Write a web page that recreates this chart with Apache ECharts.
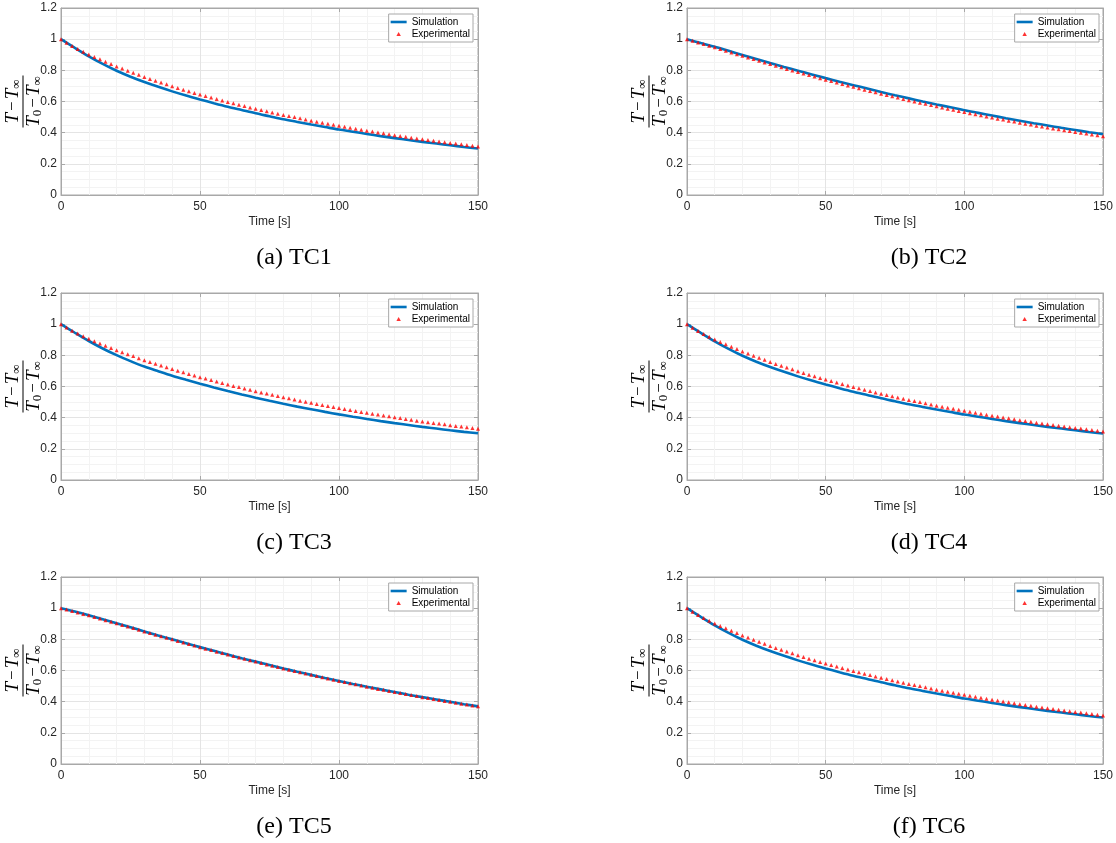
<!DOCTYPE html>
<html>
<head>
<meta charset="utf-8">
<title>Normalized temperature TC1-TC6</title>
<script src="https://cdn.jsdelivr.net/npm/echarts@6/dist/echarts.min.js"></script>
<style>
  html, body { margin: 0; padding: 0; background: #fff; }
  #main { width: 1116px; height: 843px; }
</style>
</head>
<body>
<div id="main"></div>
<script>
// time stamps [s]
const simTime = [0, 5, 10, 15, 20, 25, 30, 35, 40, 45, 50, 55, 60, 65, 70, 75, 80, 85, 90, 95, 100,
  105, 110, 115, 120, 125, 130, 135, 140, 145, 150];
const expTime = [0, 2, 4, 6, 8, 10, 12, 14, 16, 18, 20, 22, 24, 26, 28, 30, 32, 34, 36, 38, 40,
  42, 44, 46, 48, 50, 52, 54, 56, 58, 60, 62, 64, 66, 68, 70, 72, 74, 76, 78, 80,
  82, 84, 86, 88, 90, 92, 94, 96, 98, 100, 102, 104, 106, 108, 110, 112, 114, 116, 118, 120,
  122, 124, 126, 128, 130, 132, 134, 136, 138, 140, 142, 144, 146, 148, 150];

// (T - Tinf) / (T0 - Tinf)
const tc1Sim = [1.000, 0.944, 0.890, 0.841, 0.797, 0.759, 0.725, 0.694, 0.665, 0.638, 0.613,
  0.589, 0.566, 0.545, 0.524, 0.505, 0.486, 0.469, 0.452, 0.436, 0.420,
  0.406, 0.392, 0.378, 0.365, 0.353, 0.341, 0.330, 0.319, 0.308, 0.298];
const tc1Exp = [1.000, 0.977, 0.956, 0.937, 0.919, 0.902,
  0.886, 0.871, 0.855, 0.840, 0.825, 0.811, 0.798, 0.784, 0.771, 0.757,
  0.745, 0.733, 0.722, 0.710, 0.698, 0.687, 0.676, 0.666, 0.655, 0.645,
  0.635, 0.626, 0.616, 0.607, 0.597, 0.588, 0.579, 0.571, 0.562, 0.553,
  0.545, 0.538, 0.530, 0.522, 0.514, 0.507, 0.500, 0.492, 0.485, 0.477,
  0.470, 0.464, 0.457, 0.451, 0.444, 0.438, 0.431, 0.425, 0.419, 0.413,
  0.407, 0.401, 0.396, 0.390, 0.384, 0.379, 0.374, 0.368, 0.363, 0.358,
  0.353, 0.348, 0.344, 0.339, 0.334, 0.330, 0.325, 0.321, 0.316, 0.312];

const tc2Sim = [1.000, 0.975, 0.951, 0.925, 0.899, 0.873, 0.847, 0.822, 0.798, 0.774, 0.750,
  0.727, 0.705, 0.683, 0.661, 0.640, 0.620, 0.600, 0.581, 0.563, 0.544,
  0.527, 0.510, 0.493, 0.477, 0.461, 0.446, 0.431, 0.417, 0.403, 0.390];
const tc2Exp = [1.000, 0.990, 0.979, 0.969, 0.958, 0.948,
  0.937, 0.926, 0.915, 0.904, 0.893, 0.882, 0.872, 0.861, 0.851, 0.840,
  0.830, 0.819, 0.809, 0.799, 0.789, 0.779, 0.770, 0.760, 0.750, 0.740,
  0.731, 0.722, 0.712, 0.703, 0.694, 0.685, 0.676, 0.668, 0.659, 0.650,
  0.642, 0.633, 0.625, 0.616, 0.608, 0.600, 0.592, 0.585, 0.577, 0.569,
  0.562, 0.554, 0.547, 0.539, 0.532, 0.525, 0.518, 0.511, 0.504, 0.497,
  0.490, 0.484, 0.477, 0.471, 0.464, 0.458, 0.452, 0.445, 0.439, 0.433,
  0.427, 0.422, 0.416, 0.411, 0.405, 0.399, 0.394, 0.388, 0.383, 0.377];

const tc3Sim = [1.000, 0.945, 0.892, 0.844, 0.801, 0.763, 0.728, 0.698, 0.669, 0.643, 0.618,
  0.594, 0.571, 0.549, 0.528, 0.508, 0.489, 0.471, 0.454, 0.437, 0.421,
  0.406, 0.392, 0.378, 0.365, 0.353, 0.341, 0.330, 0.319, 0.309, 0.300];
const tc3Exp = [1.000, 0.978, 0.958, 0.940, 0.922, 0.906,
  0.891, 0.876, 0.862, 0.847, 0.833, 0.820, 0.807, 0.795, 0.782, 0.769,
  0.758, 0.746, 0.735, 0.723, 0.712, 0.701, 0.691, 0.681, 0.670, 0.660,
  0.651, 0.641, 0.632, 0.622, 0.613, 0.604, 0.596, 0.587, 0.579, 0.570,
  0.562, 0.555, 0.547, 0.539, 0.531, 0.524, 0.517, 0.509, 0.502, 0.495,
  0.488, 0.482, 0.475, 0.469, 0.462, 0.456, 0.450, 0.443, 0.437, 0.431,
  0.425, 0.420, 0.414, 0.409, 0.403, 0.398, 0.392, 0.387, 0.381, 0.376,
  0.371, 0.366, 0.362, 0.357, 0.352, 0.347, 0.343, 0.338, 0.334, 0.329];

// TC4 and TC6 look the same as TC1 in the figure
const tc4Sim = tc1Sim;
const tc4Exp = tc1Exp;
const tc6Sim = tc1Sim;
const tc6Exp = tc1Exp;

const tc5Sim = [1.000, 0.978, 0.954, 0.929, 0.903, 0.877, 0.851, 0.825, 0.800, 0.775, 0.750,
  0.726, 0.702, 0.679, 0.657, 0.635, 0.613, 0.592, 0.572, 0.552, 0.533,
  0.514, 0.496, 0.479, 0.462, 0.445, 0.429, 0.414, 0.399, 0.384, 0.370];
const tc5Exp = [1.000, 0.991, 0.982, 0.972, 0.963, 0.954,
  0.944, 0.933, 0.923, 0.913, 0.903, 0.892, 0.882, 0.872, 0.861, 0.851,
  0.841, 0.830, 0.820, 0.810, 0.800, 0.790, 0.780, 0.770, 0.760, 0.750,
  0.740, 0.731, 0.721, 0.712, 0.702, 0.693, 0.684, 0.675, 0.666, 0.657,
  0.648, 0.639, 0.631, 0.622, 0.613, 0.605, 0.596, 0.588, 0.580, 0.572,
  0.564, 0.556, 0.549, 0.541, 0.533, 0.526, 0.518, 0.511, 0.503, 0.496,
  0.489, 0.482, 0.476, 0.469, 0.462, 0.455, 0.449, 0.442, 0.436, 0.429,
  0.423, 0.417, 0.411, 0.405, 0.399, 0.393, 0.387, 0.382, 0.376, 0.370];

const captions = ['(a) TC1', '(b) TC2', '(c) TC3', '(d) TC4', '(e) TC5', '(f) TC6'];
const simData = [tc1Sim, tc2Sim, tc3Sim, tc4Sim, tc5Sim, tc6Sim];
const expData = [tc1Exp, tc2Exp, tc3Exp, tc4Exp, tc5Exp, tc6Exp];

const SANS = '"Liberation Sans", Arial, Helvetica, sans-serif';
const SERIF = '"Liberation Serif", "Times New Roman", serif';
const axisGray = '#a8a8a8';
const labelColor = '#262626';

const W = 417, H = 187;
const colLeft = [61, 687];
const rowTop = [8, 293, 577];
const captionX = [294, 929];

const grids = [], xAxes = [], yAxes = [], series = [], legends = [], graphics = [];

const mathRich = {
  t: { fontFamily: SERIF, fontStyle: 'italic', fontSize: 19, color: '#000' },
  m: { fontFamily: SERIF, fontSize: 17, color: '#000', padding: [0, 2] },
  s: { fontFamily: SERIF, fontSize: 13, color: '#000', verticalAlign: 'bottom', padding: [7, 0, 0, 0] }
};

captions.forEach((cap, i) => {
  const left = colLeft[i % 2];
  const top = rowTop[Math.floor(i / 2)];

  grids.push({ left, top, width: W, height: H, show: true, borderColor: axisGray, borderWidth: 1, backgroundColor: '#fff' });

  const boxAxis = {
    gridIndex: i, type: 'value',
    axisLine: { show: true, onZero: false, lineStyle: { color: axisGray } },
    axisTick: { show: true, inside: true, length: 4, lineStyle: { color: axisGray } },
    axisLabel: { show: false },
    splitLine: { show: false }
  };

  xAxes.push({
    gridIndex: i, type: 'value', position: 'bottom', min: 0, max: 150, interval: 50,
    axisLine: { show: true, onZero: false, lineStyle: { color: axisGray } },
    axisTick: { show: true, inside: true, length: 4, lineStyle: { color: axisGray } },
    axisLabel: { color: labelColor, fontSize: 12, fontFamily: SANS, margin: 6 },
    splitLine: { show: true, lineStyle: { color: '#e4e4e4' } },
    minorTick: { show: false, splitNumber: 5 },
    minorSplitLine: { show: true, lineStyle: { color: '#f3f3f3' } },
    name: 'Time [s]', nameLocation: 'middle', nameGap: 21,
    nameTextStyle: { color: labelColor, fontSize: 12, fontFamily: SANS }
  });
  xAxes.push(Object.assign({}, boxAxis, { position: 'top', min: 0, max: 150, interval: 50 }));

  yAxes.push({
    gridIndex: i, type: 'value', position: 'left', min: 0, max: 1.2, interval: 0.2,
    axisLine: { show: true, onZero: false, lineStyle: { color: axisGray } },
    axisTick: { show: true, inside: true, length: 4, lineStyle: { color: axisGray } },
    axisLabel: { color: labelColor, fontSize: 12, fontFamily: SANS, margin: 4 },
    splitLine: { show: true, lineStyle: { color: '#e4e4e4' } },
    minorTick: { show: false, splitNumber: 4 },
    minorSplitLine: { show: true, lineStyle: { color: '#f3f3f3' } }
  });
  yAxes.push(Object.assign({}, boxAxis, { position: 'right', min: 0, max: 1.2, interval: 0.2 }));

  series.push({
    type: 'line', name: 'Simulation',
    xAxisIndex: 2 * i, yAxisIndex: 2 * i,
    data: simTime.map((t, k) => [t, simData[i][k]]),
    symbol: 'none', smooth: 0.3,
    lineStyle: { color: '#0072BD', width: 2.6 },
    itemStyle: { color: '#0072BD' },
    z: 2
  });
  series.push({
    type: 'scatter', name: 'Experimental',
    xAxisIndex: 2 * i, yAxisIndex: 2 * i,
    data: expTime.map((t, k) => [t, expData[i][k]]),
    symbol: 'triangle', symbolSize: 4,
    itemStyle: { color: '#ff0000' },
    z: 3
  });

  legends.push({
    orient: 'vertical',
    right: 1116 - (left + W - 5), top: top + 6,
    data: [
      { name: 'Simulation', icon: 'path://M0,0 L16,0 L16,2.6 L0,2.6 Z' },
      { name: 'Experimental', icon: 'path://M2,0 L4,3.6 L0,3.6 Z' }
    ],
    itemWidth: 16, itemHeight: 4, itemGap: 0,
    padding: [2, 3, 2, 2],
    symbolKeepAspect: true,
    backgroundColor: '#fff', borderColor: axisGray, borderWidth: 1,
    selectedMode: false,
    textStyle: { fontSize: 10, color: '#000', fontFamily: SANS, lineHeight: 12 }
  });

  // y label: (T - Tinf) / (T0 - Tinf), written as a fraction turned on its side
  graphics.push({
    type: 'group', x: left - 38, y: top + H / 2, rotation: Math.PI / 2,
    children: [
      { type: 'text', x: 0, y: 0, style: { text: '{t|T}{m|−}{t|T}{s|∞}', rich: mathRich, align: 'center', verticalAlign: 'bottom' } },
      { type: 'line', shape: { x1: -26, y1: 0, x2: 26, y2: 0 }, style: { stroke: '#000', lineWidth: 1 } },
      { type: 'text', x: 0, y: 1, style: { text: '{t|T}{s|0}{m|−}{t|T}{s|∞}', rich: mathRich, align: 'center', verticalAlign: 'top' } }
    ]
  });

  graphics.push({
    type: 'text', x: captionX[i % 2], y: top + 250,
    style: { text: cap, fontFamily: SERIF, fontSize: 24, fill: '#000', align: 'center', verticalAlign: 'middle' }
  });
});

const chart = echarts.init(document.getElementById('main'));
chart.setOption({
  animation: false,
  backgroundColor: '#fff',
  grid: grids,
  xAxis: xAxes,
  yAxis: yAxes,
  legend: legends,
  series: series,
  graphic: graphics
});
</script>
</body>
</html>
